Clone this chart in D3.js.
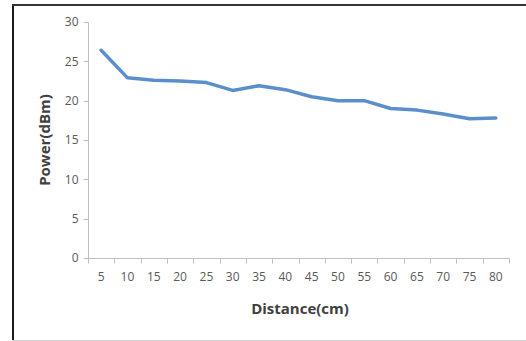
<!DOCTYPE html>
<html><head><meta charset="utf-8">
<script src="https://cdn.jsdelivr.net/npm/d3@7"></script>
<style>body{margin:0;background:#fff}svg{display:block}</style>
</head><body>
<script>
const distances = ["5","10","15","20","25","30","35","40","45","50","55","60","65","70","75","80"];
const power = [26.4,22.9,22.6,22.5,22.3,21.3,21.9,21.4,20.5,20.0,20.0,19.0,18.8,18.3,17.7,17.8];
const yTicks = [0,5,10,15,20,25,30];
const xTitle = "Distance(cm)";
const yTitle = "Power(dBm)";

const W = 526, H = 341;
const svg = d3.select("body").append("svg").attr("width", W).attr("height", H);
const font = "'Open Sans', 'Noto Sans', sans-serif";

// frame
svg.append("line").attr("x1",13).attr("x2",13).attr("y1",4).attr("y2",341).attr("stroke","#1a1a1a").attr("stroke-width",2);
svg.append("line").attr("x1",12).attr("x2",W).attr("y1",5).attr("y2",5).attr("stroke","#333").attr("stroke-width",2);
svg.append("line").attr("x1",12).attr("x2",W).attr("y1",340.5).attr("y2",340.5).attr("stroke","#d0d0d0").attr("stroke-width",1);

const x = d3.scaleBand().domain(distances).range([88, 509]);
const y = d3.scaleLinear().domain([0, 30]).range([258, 22]);

// y axis
const gy = svg.append("g").attr("transform","translate(88.5,0)");
gy.append("line").attr("y1", y(30)).attr("y2", y(0)).attr("stroke","#bfbfbf");
yTicks.forEach(t => {
  gy.append("line").attr("x1",-5).attr("x2",0).attr("y1",Math.round(y(t))+0.5).attr("y2",Math.round(y(t))+0.5).attr("stroke","#bfbfbf");
  gy.append("text").attr("x",-10).attr("y",y(t)).attr("dy","0.35em").attr("text-anchor","end")
    .attr("font-family",font).attr("font-size",12).attr("fill","#595959").text(t);
});

// x axis
const gx = svg.append("g").attr("transform","translate(0,258.5)");
gx.append("line").attr("x1",88).attr("x2",509).attr("stroke","#bfbfbf");
const bounds = distances.map(d => x(d)).concat([509]);
bounds.forEach(b => {
  gx.append("line").attr("x1",Math.round(b)+0.5).attr("x2",Math.round(b)+0.5).attr("y1",0).attr("y2",5).attr("stroke","#bfbfbf");
});
distances.forEach(d => {
  gx.append("text").attr("x", x(d)+x.bandwidth()/2).attr("y",22).attr("text-anchor","middle")
    .attr("font-family",font).attr("font-size",12).attr("fill","#595959").text(d);
});

// titles
svg.append("text").attr("x",300).attr("y",314).attr("text-anchor","middle")
  .attr("font-family",font).attr("font-size",15).attr("font-weight","bold").attr("fill","#404040").text(xTitle);
svg.append("text").attr("transform","translate(50,140) rotate(-90)").attr("text-anchor","middle")
  .attr("font-family",font).attr("font-size",15).attr("font-weight","bold").attr("fill","#404040").text(yTitle);

// line
const line = d3.line().x((d,i)=>x(distances[i])+x.bandwidth()/2).y(d=>y(d));
svg.append("path").datum(power).attr("d",line).attr("fill","none")
  .attr("stroke","#5b8fcb").attr("stroke-width",3.5).attr("stroke-linejoin","round").attr("stroke-linecap","round");
</script>
</body></html>
